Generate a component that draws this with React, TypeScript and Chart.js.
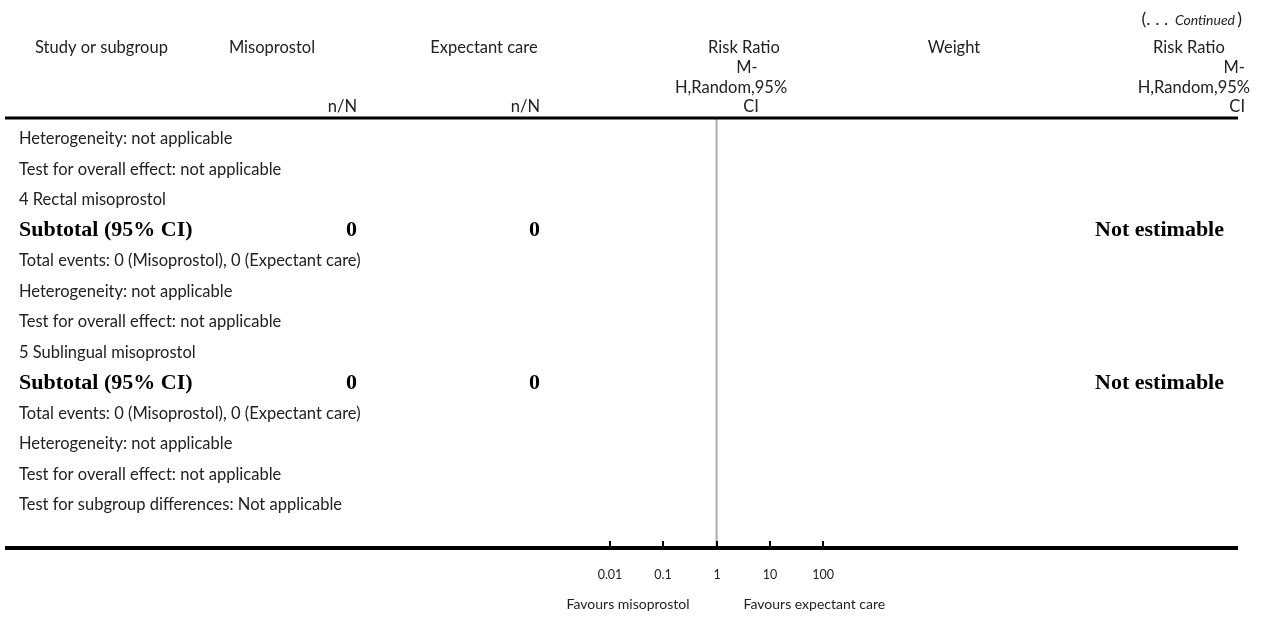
import React, { useEffect, useRef } from "react";
import { Chart, registerables } from "chart.js";

Chart.register(...registerables);

// ---------- data ----------
const rowLabels = [
  "Heterogeneity: not applicable",
  "Test for overall effect: not applicable",
  "4 Rectal misoprostol",
  "Subtotal (95% CI)",
  "Total events: 0 (Misoprostol), 0 (Expectant care)",
  "Heterogeneity: not applicable",
  "Test for overall effect: not applicable",
  "5 Sublingual misoprostol",
  "Subtotal (95% CI)",
  "Total events: 0 (Misoprostol), 0 (Expectant care)",
  "Heterogeneity: not applicable",
  "Test for overall effect: not applicable",
  "Test for subgroup differences: Not applicable",
];
const rowBold = [false, false, false, true, false, false, false, false, true, false, false, false, false];
const misoprostolCounts = ["", "", "", "0", "", "", "", "", "0", "", "", "", ""];
const expectantCounts = ["", "", "", "0", "", "", "", "", "0", "", "", "", ""];
const riskRatioTexts = ["", "", "", "Not estimable", "", "", "", "", "Not estimable", "", "", "", ""];
const axisTicks = [0.01, 0.1, 1, 10, 100];
const tickLabels = ["0.01", "0.1", "1", "10", "100"];
const nullValue = 1;
const favoursLeft = "Favours misoprostol";
const favoursRight = "Favours expectant care";

const SANS = "Lato, 'Open Sans', sans-serif";
const SERIF = "'Liberation Serif', 'DejaVu Serif', serif";
const TEXT = "#222";
const BODY = `16.5px ${SANS}`;

const forestPlugin = {
  id: "forestText",
  afterDatasetsDraw(chart: any) {
    const { ctx, chartArea, scales } = chart;
    const xs = scales.x;
    const ys = scales.y;
    ctx.save();
    // rules
    ctx.strokeStyle = "#000";
    ctx.lineWidth = 3;
    ctx.beginPath();
    ctx.moveTo(chartArea.left, chartArea.top);
    ctx.lineTo(chartArea.right, chartArea.top);
    ctx.stroke();
    ctx.lineWidth = 4;
    ctx.beginPath();
    ctx.moveTo(chartArea.left, chartArea.bottom);
    ctx.lineTo(chartArea.right, chartArea.bottom);
    ctx.stroke();
    // ticks
    ctx.lineWidth = 2;
    ctx.fillStyle = TEXT;
    ctx.font = `12.5px ${SANS}`;
    ctx.textAlign = "center";
    ctx.textBaseline = "middle";
    axisTicks.forEach((v, i) => {
      const px = Math.round(xs.getPixelForValue(Math.log10(v)));
      ctx.beginPath();
      ctx.moveTo(px, chartArea.bottom - 7);
      ctx.lineTo(px, chartArea.bottom);
      ctx.stroke();
      ctx.fillText(tickLabels[i], px, chartArea.bottom + 27);
    });
    const nullPx = xs.getPixelForValue(Math.log10(nullValue));
    ctx.font = `14px ${SANS}`;
    ctx.textAlign = "right";
    ctx.fillText(favoursLeft, nullPx - 27, chartArea.bottom + 56);
    ctx.textAlign = "left";
    ctx.fillText(favoursRight, nullPx + 27, chartArea.bottom + 56);

    // header
    ctx.font = BODY;
    ctx.textBaseline = "middle";
    ctx.textAlign = "left";
    ctx.fillText("Study or subgroup", 35, 48);
    ctx.textAlign = "center";
    ctx.fillText("Misoprostol", 272, 48);
    ctx.fillText("Expectant care", 484, 48);
    ctx.textAlign = "right";
    ctx.fillText("n/N", 357, 107);
    ctx.fillText("n/N", 540, 107);
    ctx.textAlign = "center";
    ctx.fillText("Risk Ratio", 744, 48);
    ctx.fillText("M-", 747, 68);
    ctx.fillText("H,Random,95%", 731, 88);
    ctx.fillText("CI", 751, 107);
    ctx.fillText("Weight", 954, 48);
    ctx.fillText("Risk Ratio", 1189, 48);
    ctx.textAlign = "right";
    ctx.fillText("M-", 1245, 68);
    ctx.fillText("H,Random,95%", 1250, 88);
    ctx.fillText("CI", 1245, 107);
    // continued
    ctx.font = `italic 14px ${SANS}`;
    ctx.fillText("Continued", 1235, 20);
    const wc = ctx.measureText("Continued").width;
    ctx.font = `18px ${SANS}`;
    ctx.fillText(")", 1242, 19);
    ctx.fillText("(. . . ", 1235 - wc - 2, 19);

    // rows
    rowLabels.forEach((label, i) => {
      const py = ys.getPixelForValue(i);
      if (rowBold[i]) {
        ctx.font = `bold 22px ${SERIF}`;
        ctx.fillStyle = "#000";
      } else {
        ctx.font = BODY;
        ctx.fillStyle = TEXT;
      }
      ctx.textAlign = "left";
      ctx.fillText(label, 19, py);
      ctx.font = `bold 22px ${SERIF}`;
      ctx.fillStyle = "#000";
      ctx.textAlign = "right";
      if (misoprostolCounts[i]) ctx.fillText(misoprostolCounts[i], 357, py);
      if (expectantCounts[i]) ctx.fillText(expectantCounts[i], 540, py);
      if (riskRatioTexts[i]) ctx.fillText(riskRatioTexts[i], 1224, py);
    });
    ctx.restore();
  },
};

export default function App() {
  const ref = useRef<HTMLCanvasElement | null>(null);
  useEffect(() => {
    if (!ref.current) return;
    const xMin = -13.36;
    const xMax = 9.79;
    const yMin = -0.69;
    const yMax = 13.41;
    const chart = new Chart(ref.current, {
      type: "scatter",
      data: {
        datasets: [
          {
            type: "line",
            label: "null",
            data: [
              { x: Math.log10(nullValue), y: yMin },
              { x: Math.log10(nullValue), y: yMax },
            ],
            borderColor: "#a9a9a9",
            borderWidth: 2,
            pointRadius: 0,
          } as any,
        ],
      },
      options: {
        animation: false,
        responsive: false,
        maintainAspectRatio: false,
        layout: { padding: { left: 5, right: 30, top: 118, bottom: 70 } },
        scales: {
          x: { type: "linear", min: xMin, max: xMax, display: false },
          y: { type: "linear", min: yMin, max: yMax, reverse: true, display: false },
        },
        plugins: { legend: { display: false }, tooltip: { enabled: false } },
      },
      plugins: [forestPlugin],
    });
    return () => chart.destroy();
  }, []);
  return (
    <div style={{ position: "fixed", left: 0, top: 0, width: 1268, height: 618, background: "#fff" }}>
      <canvas ref={ref} width={1268} height={618} style={{ width: 1268, height: 618 }} />
    </div>
  );
}
